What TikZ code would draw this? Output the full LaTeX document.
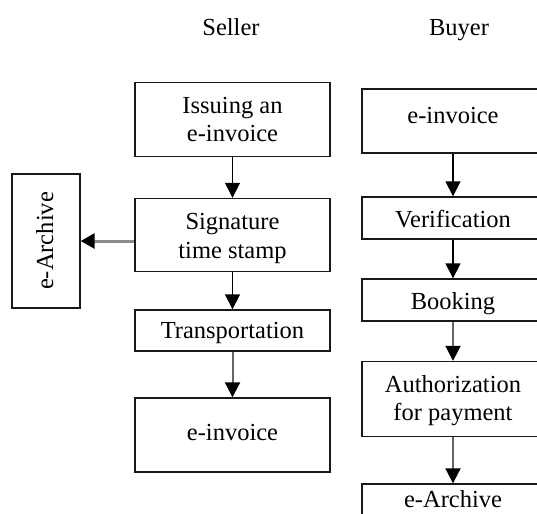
\documentclass[tikz,border=0pt]{standalone}
\usepackage{fontspec}
\setmainfont{Liberation Serif}
\usetikzlibrary{arrows.meta}
\begin{document}
\begin{tikzpicture}[x=1pt,y=-1pt,
  box/.style={draw=black!90,line width=1.4pt,inner sep=0pt,align=center,
    font=\fontsize{24.5}{28.5}\selectfont},
  lbl/.style={font=\fontsize{24.5}{28.5}\selectfont},
  arr/.style={line width=1.6pt,-{Triangle[length=15pt,width=15pt]}},
  garr/.style={line width=2pt,draw=black!60,-{Triangle[length=15pt,width=15pt,color=black]}},
]
\useasboundingbox (0,0) rectangle (537,513);
\clip (0,0) rectangle (537,513);
% headers
\node[lbl,anchor=base] (seller) at (231,36) {Seller};
\node[lbl,anchor=base] (buyer) at (459,36) {Buyer};
% seller column
\node[box,minimum width=195pt,minimum height=74pt,text height=45pt,text depth=0pt] (s1) at (232.5,119.5) {Issuing an\\e-invoice};
\node[box,minimum width=195pt,minimum height=73pt,text height=46pt,text depth=0pt] (s2) at (232.5,235) {Signature\\time stamp};
\node[box,minimum width=195pt,minimum height=41pt,text height=15pt,text depth=0pt] (s3) at (232.5,330.5) {Transportation};
\node[box,minimum width=195pt,minimum height=74pt,text height=11pt,text depth=0pt] (s4) at (232.5,435) {e-invoice};
\node[box,rotate=90,minimum width=134pt,minimum height=68pt,text height=14pt,text depth=0pt] (sa) at (46,241) {e-Archive};
% buyer column
\node[box,minimum width=182pt,minimum height=64pt,text height=5.5pt,text depth=0pt] (b1) at (453,121) {e-invoice};
\node[box,minimum width=182pt,minimum height=42pt,text height=18pt,text depth=0pt] (b2) at (453,218) {Verification};
\node[box,minimum width=182pt,minimum height=42pt,text height=18pt,text depth=0pt] (b3) at (453,300) {Booking};
\node[box,minimum width=182pt,minimum height=75pt,text height=43pt,text depth=0pt] (b4) at (453,399) {Authorization\\for payment};
\node[box,minimum width=182pt,minimum height=60pt,text height=0pt,text depth=14pt] (b5) at (453,514) {e-Archive};
% arrows
\draw[arr] (s1.south) -- (s2.north);
\draw[arr] (s2.south) -- (s3.north);
\draw[garr] (s3.south) -- (s4.north);
\draw[line width=3pt,draw=black!45,-{Triangle[length=14pt,width=15pt,color=black]}] (s2.west |- sa.south) -- (sa.south);
\draw[arr] (b1.south) -- (b2.north);
\draw[arr] (b2.south) -- (b3.north);
\draw[garr] (b3.south) -- (b4.north);
\draw[garr] (b4.south) -- (b5.north);
\end{tikzpicture}
\end{document}
